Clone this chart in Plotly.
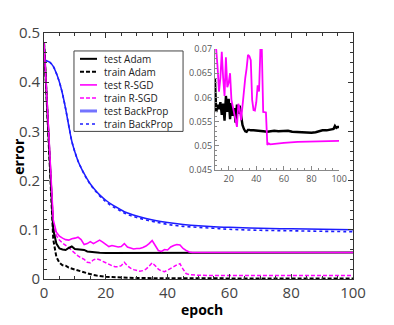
import plotly.graph_objects as go

# === main panel data ===
bp_epoch = [0, 1, 2, 3, 4, 5, 6, 7, 8, 9, 10, 11, 12, 13, 14, 15, 16, 18, 20, 22,
            24, 26, 28, 30, 33, 36, 40, 45, 50, 55, 60, 70, 80, 90, 100]
bp_test = [0.445, 0.443, 0.44, 0.432, 0.418, 0.4, 0.376, 0.346, 0.312, 0.28,
           0.258, 0.24, 0.226, 0.214, 0.203, 0.193, 0.185, 0.171, 0.16, 0.151,
           0.144, 0.137, 0.132, 0.128, 0.123, 0.119, 0.115, 0.111, 0.108, 0.106,
           0.105, 0.103, 0.102, 0.101, 0.1]
bp_train = [0.445, 0.443, 0.44, 0.432, 0.418, 0.4, 0.376, 0.346, 0.312, 0.28,
            0.258, 0.24, 0.226, 0.213, 0.202, 0.192, 0.184, 0.169, 0.157, 0.148,
            0.141, 0.134, 0.129, 0.125, 0.12, 0.116, 0.111, 0.107, 0.105, 0.103,
            0.101, 0.099, 0.098, 0.097, 0.096]

adam_epoch = [0, 1, 2, 3, 4, 5, 6, 7, 8, 9, 10, 11, 12, 13, 14, 15, 16, 17, 18,
              20, 22, 25, 30, 40, 50, 60, 70, 80, 90, 95, 97, 100]
adam_test = [0.48, 0.347, 0.213, 0.1, 0.072, 0.062, 0.06, 0.059, 0.063, 0.066,
             0.061, 0.06, 0.06, 0.059, 0.056, 0.055, 0.054, 0.0535, 0.0535,
             0.053, 0.053, 0.053, 0.053, 0.053, 0.053, 0.053, 0.0528, 0.0528,
             0.053, 0.0533, 0.054, 0.054]
adam_train = [0.48, 0.347, 0.213, 0.08, 0.045, 0.033, 0.028, 0.027, 0.023, 0.021,
              0.019, 0.017, 0.016, 0.014, 0.012, 0.01, 0.008, 0.007, 0.006,
              0.0045, 0.004, 0.003, 0.002, 0.0015, 0.001, 0.001, 0.001, 0.001,
              0.001, 0.001, 0.001, 0.001]

rsgd_epoch = [0, 1, 2, 3, 4, 5, 6, 7, 8, 9, 10, 11, 12, 13, 14, 15, 16, 17, 18, 19,
              20, 21, 22, 23, 24, 25, 26, 27, 28, 29, 30, 31, 32, 33, 34, 35, 36,
              37, 38, 39, 40, 41, 42, 43, 44, 45, 46, 47, 48, 50, 60, 70, 80, 90, 100]
rsgd_test = [0.48, 0.355, 0.225, 0.12, 0.095, 0.087, 0.083, 0.08, 0.079, 0.082,
             0.083, 0.085, 0.08, 0.07, 0.072, 0.076, 0.072, 0.075, 0.079, 0.075,
             0.07, 0.066, 0.068, 0.067, 0.065, 0.066, 0.072, 0.065, 0.063, 0.061,
             0.062, 0.062, 0.064, 0.067, 0.072, 0.078, 0.068, 0.058, 0.056, 0.06,
             0.059, 0.065, 0.068, 0.07, 0.069, 0.062, 0.058, 0.055, 0.054,
             0.054, 0.054, 0.054, 0.054, 0.054, 0.054]
rsgd_train = [0.48, 0.355, 0.225, 0.11, 0.088, 0.079, 0.073, 0.069, 0.064, 0.058,
              0.052, 0.047, 0.043, 0.04, 0.034, 0.033, 0.039, 0.041, 0.039, 0.036,
              0.032, 0.029, 0.027, 0.025, 0.025, 0.027, 0.034, 0.027, 0.022, 0.019,
              0.018, 0.016, 0.017, 0.02, 0.026, 0.033, 0.027, 0.02, 0.016, 0.015,
              0.018, 0.021, 0.025, 0.029, 0.031, 0.02, 0.011, 0.009, 0.008,
              0.0075, 0.007, 0.007, 0.007, 0.007, 0.007]

# === inset data (zoom on test error) ===
inset_adam_epoch = [10, 11, 12, 13, 14, 15, 16, 17, 18, 19, 20, 21, 22, 23, 24, 25,
                    26, 27, 28, 29, 30, 31, 32, 33, 34, 35, 36, 38, 40, 42, 45, 48,
                    50, 53, 56, 60, 63, 66, 70, 73, 76, 80, 83, 86, 88, 91, 94, 96,
                    97, 98, 99, 100]
inset_adam = [0.064, 0.057, 0.0585, 0.0576, 0.059, 0.0564, 0.0587, 0.0552, 0.0603,
              0.057, 0.0597, 0.0555, 0.0588, 0.0562, 0.0578, 0.0548, 0.0585, 0.0566,
              0.0583, 0.0556, 0.0543, 0.0535, 0.053, 0.0529, 0.0533, 0.0533, 0.0532,
              0.0532, 0.0531, 0.053, 0.053, 0.0529, 0.053, 0.0531, 0.053, 0.053,
              0.0531, 0.0529, 0.0528, 0.0528, 0.0527, 0.0527, 0.0528, 0.053, 0.0532,
              0.0532, 0.0533, 0.0535, 0.0541, 0.0537, 0.0539, 0.0539]
inset_rsgd_epoch = [10, 11, 12, 13, 14, 15, 16, 17, 18, 19, 20, 21, 22, 23, 24, 25,
                    26, 27, 28, 29, 30, 31, 32, 33, 34, 35, 36, 37, 38, 39, 40, 41,
                    42, 43, 44, 45, 46, 47, 48, 49, 50, 55, 60, 70, 80, 90, 100]
inset_rsgd = [0.071, 0.0698, 0.066, 0.0612, 0.064, 0.0694, 0.064, 0.0603, 0.0683,
              0.0621, 0.063, 0.065, 0.0595, 0.058, 0.0567, 0.0555, 0.0539, 0.0587,
              0.0575, 0.0553, 0.058, 0.0621, 0.064, 0.066, 0.0688, 0.0685, 0.0677,
              0.0595, 0.0574, 0.0573, 0.059, 0.0625, 0.0612, 0.0701, 0.07, 0.057,
              0.0569, 0.0569, 0.0502, 0.0505, 0.0503, 0.0505, 0.0506, 0.0508,
              0.0509, 0.051, 0.051]

BLACK = "#000000"
MAGENTA = "#ff00ff"
BLUE = "#1c1cff"
FONT = "Open Sans, Liberation Sans, sans-serif"
SHORT_DASH = "4px,2px"

fig = go.Figure()

# main curves
fig.add_trace(go.Scatter(x=bp_epoch, y=bp_train, mode="lines", line_shape="spline",
                         line=dict(color=BLUE, width=1.6, dash="dot")))
fig.add_trace(go.Scatter(x=bp_epoch, y=bp_test, mode="lines", line_shape="spline",
                         line=dict(color=BLUE, width=1.5)))
fig.add_trace(go.Scatter(x=rsgd_epoch, y=rsgd_train, mode="lines",
                         line=dict(color=MAGENTA, width=1.5, dash=SHORT_DASH)))
fig.add_trace(go.Scatter(x=adam_epoch, y=adam_train, mode="lines",
                         line=dict(color=BLACK, width=2, dash=SHORT_DASH)))
fig.add_trace(go.Scatter(x=adam_epoch, y=adam_test, mode="lines",
                         line=dict(color=BLACK, width=2)))
fig.add_trace(go.Scatter(x=rsgd_epoch, y=rsgd_test, mode="lines",
                         line=dict(color=MAGENTA, width=1.6)))

# inset curves
fig.add_trace(go.Scatter(x=inset_adam_epoch, y=inset_adam, mode="lines",
                         xaxis="x2", yaxis="y2", line=dict(color=BLACK, width=2.4)))
fig.add_trace(go.Scatter(x=inset_rsgd_epoch, y=inset_rsgd, mode="lines",
                         xaxis="x2", yaxis="y2", line=dict(color=MAGENTA, width=1.8)))

axis_style = dict(showline=True, linecolor="#333", linewidth=1, mirror="ticks",
                  ticks="inside", ticklen=5, tickcolor="#333", showgrid=False,
                  zeroline=False, tickfont=dict(size=15, color="#444", family=FONT))

# page body adds an 8px offset, so the figure is 8px smaller than the window
fig.update_layout(
    width=386, height=317,
    margin=dict(l=36, r=41, t=25, b=46),
    paper_bgcolor="white", plot_bgcolor="white",
    showlegend=False,
    font=dict(family=FONT),
    xaxis=dict(range=[0, 100], dtick=20, domain=[0, 1],
               minor=dict(ticks="inside", dtick=5, ticklen=3, tickcolor="#333"),
               **axis_style),
    yaxis=dict(range=[0, 0.5], dtick=0.1, domain=[0, 1],
               minor=dict(ticks="inside", dtick=0.02, ticklen=3, tickcolor="#333"),
               **axis_style),
    xaxis2=dict(range=[10, 100], dtick=20, tick0=0, domain=[0.553, 0.955], anchor="y2",
                showline=True, linecolor="#888", ticks="inside", ticklen=4,
                tickcolor="#888", showgrid=False, zeroline=False,
                minor=dict(ticks="inside", dtick=5, ticklen=2, tickcolor="#888"),
                tickfont=dict(size=9, color="#555")),
    yaxis2=dict(range=[0.045, 0.07], dtick=0.005, tick0=0, domain=[0.443, 0.935],
                anchor="x2", showline=True, linecolor="#888", ticks="inside",
                ticklen=4, tickcolor="#888", showgrid=False, zeroline=False,
                minor=dict(ticks="inside", dtick=0.001, ticklen=2, tickcolor="#888"),
                tickfont=dict(size=9, color="#555")),
)

# axis titles
fig.add_annotation(text="<b>epoch</b>", x=0.51, y=-0.126, xref="paper", yref="paper",
                   xanchor="center", yanchor="middle",
                   showarrow=False, font=dict(size=14, color="black"))
fig.add_annotation(text="<b>error</b>", x=-0.085, y=0.5, xref="paper", yref="paper",
                   xanchor="center", yanchor="middle",
                   textangle=-90, showarrow=False, font=dict(size=14, color="black"))

# === hand-drawn legend box ===
legend_items = [
    ("test Adam", BLACK, "solid", 2),
    ("train Adam", BLACK, SHORT_DASH, 2),
    ("test R-SGD", MAGENTA, "solid", 1.6),
    ("train R-SGD", MAGENTA, SHORT_DASH, 1.6),
    ("test BackProp", "rgba(40,40,255,0.65)", "solid", 3),
    ("train BackProp", BLUE, "dot", 1.5),
]
fig.add_shape(type="rect", xref="paper", yref="paper", x0=0.097, x1=0.45,
              y0=0.6, y1=0.927, line=dict(color="#444", width=1),
              fillcolor="white")
y_top, y_step = 0.895, 0.053
for i, (label, color, dash, width) in enumerate(legend_items):
    yy = y_top - i * y_step
    fig.add_shape(type="line", xref="paper", yref="paper", x0=0.1165, x1=0.1715,
                  y0=yy, y1=yy, line=dict(color=color, width=width, dash=dash))
    fig.add_annotation(text=label, x=0.191, y=yy, xref="paper", yref="paper",
                       xanchor="left", yanchor="middle", showarrow=False,
                       borderpad=0, font=dict(size=10, color="#222"))

fig.write_html("out.html")
